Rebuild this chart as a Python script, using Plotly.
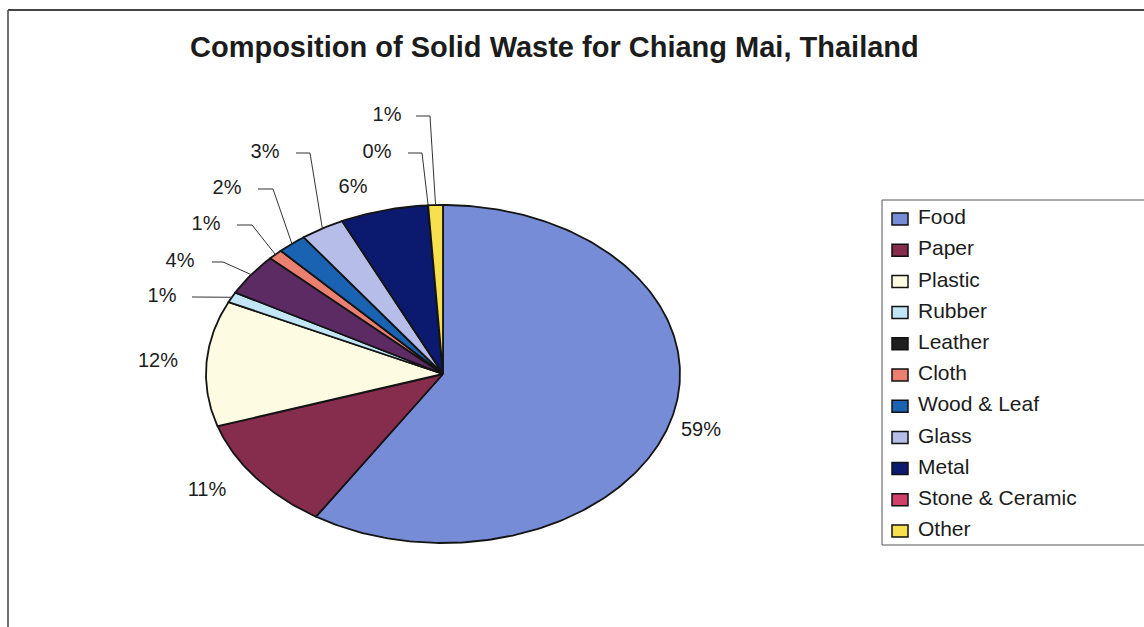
import numpy as np
import plotly.graph_objects as go

# Composition of solid waste, Chiang Mai (percent by weight)
categories = ["Food", "Paper", "Plastic", "Rubber", "Leather", "Cloth",
              "Wood & Leaf", "Glass", "Metal", "Stone & Ceramic", "Other"]
percent = [59, 11, 12, 1, 4, 1, 2, 3, 6, 0, 1]

slice_colors = ["#778cd6", "#862c4c", "#fdfbe2", "#c2e6f6", "#5c2b63", "#ec8070",
                "#1a62b2", "#b6bde9", "#0b1a6e", "#c8345c", "#f6e04e"]
legend_colors = ["#778cd6", "#862c4c", "#fdfbe2", "#c2e6f6", "#1e1e1e", "#ec8070",
                 "#1a62b2", "#b6bde9", "#0b1a6e", "#d0406a", "#f6e04e"]

# canvas in pixel units
W, H = 1144, 627
CX, CY, RX, RY = 443, 374, 237, 169

# label anchor points and leader-line segments (start x, elbow x)
label_xy = [(701, 431), (207, 491), (158, 362), (162, 297), (180, 262), (206, 225),
            (227, 189), (265, 153), (353, 188), (377, 153), (387, 116)]
leaders = [None, None, None, (192, 215), (212, 223), (237, 252), (258, 273),
           (296, 310), None, (408, 422), (416, 430)]

FONT = "Liberation Sans, Arial, sans-serif"

fig = go.Figure()

total = float(sum(percent))
cum = np.concatenate([[0.0], np.cumsum(percent)]) / total


def ellipse_pt(frac):
    t = 2 * np.pi * frac
    return CX + RX * np.sin(t), CY - RY * np.cos(t)


# pie slices, clockwise from 12 o'clock
for i, cat in enumerate(categories):
    f0, f1 = cum[i], cum[i + 1]
    n = max(2, int(np.ceil((f1 - f0) * 400)) + 1)
    fr = np.linspace(f0, f1, n)
    xs, ys = ellipse_pt(fr)
    px = np.concatenate([[CX], xs, [CX]])
    py = np.concatenate([[CY], ys, [CY]])
    fig.add_trace(go.Scatter(
        x=px, y=py, mode="lines", fill="toself", fillcolor=slice_colors[i],
        line=dict(color="#141414", width=1.8), hoverinfo="skip", showlegend=False,
    ))

# leader lines from labels to slice edges
for i, ld in enumerate(leaders):
    if ld is None:
        continue
    xs0, xe = ld
    y = label_xy[i][1]
    mx, my = ellipse_pt((cum[i] + cum[i + 1]) / 2)
    fig.add_trace(go.Scatter(
        x=[xs0, xe, mx], y=[y, y, my], mode="lines",
        line=dict(color="#333333", width=1), hoverinfo="skip", showlegend=False,
    ))

# percentage labels
fig.add_trace(go.Scatter(
    x=[p[0] for p in label_xy], y=[p[1] for p in label_xy], mode="text",
    text=[f"{v}%" for v in percent], textposition="middle center",
    textfont=dict(family=FONT, size=20, color="#1c1c1c"),
    hoverinfo="skip", showlegend=False,
))

# legend
LEG_TOP, LEG_STEP = 219, 31.2
leg_y = [LEG_TOP + k * LEG_STEP for k in range(len(categories))]
shapes = [
    dict(type="rect", xref="x", yref="y", x0=882, y0=200, x1=1150, y1=545,
         line=dict(color="#555555", width=1), fillcolor="rgba(0,0,0,0)"),
    dict(type="line", xref="x", yref="y", x0=8, y0=10, x1=W + 5, y1=10,
         line=dict(color="#444444", width=2)),
    dict(type="line", xref="x", yref="y", x0=8, y0=10, x1=8, y1=H + 5,
         line=dict(color="#444444", width=1.5)),
]
for k, yc in enumerate(leg_y):
    shapes.append(dict(type="rect", xref="x", yref="y", x0=892, x1=908,
                       y0=yc - 6, y1=yc + 6, fillcolor=legend_colors[k],
                       line=dict(color="#111111", width=1.5)))
fig.add_trace(go.Scatter(
    x=[918] * len(categories), y=leg_y, mode="text", text=categories,
    textposition="middle right",
    textfont=dict(family=FONT, size=21, color="#1c1c1c"),
    hoverinfo="skip", showlegend=False,
))

fig.update_layout(
    width=W, height=H, margin=dict(l=0, r=0, t=0, b=0),
    paper_bgcolor="white", plot_bgcolor="white", showlegend=False,
    xaxis=dict(range=[0, W], visible=False, fixedrange=True),
    yaxis=dict(range=[H, 0], visible=False, fixedrange=True),
    shapes=shapes,
    annotations=[dict(
        x=554, y=47, xref="x", yref="y", showarrow=False,
        text="<b>Composition of Solid Waste for Chiang Mai, Thailand</b>",
        font=dict(family=FONT, size=29, color="#1c1c1c"),
    )],
)

fig.write_html("out.html")
